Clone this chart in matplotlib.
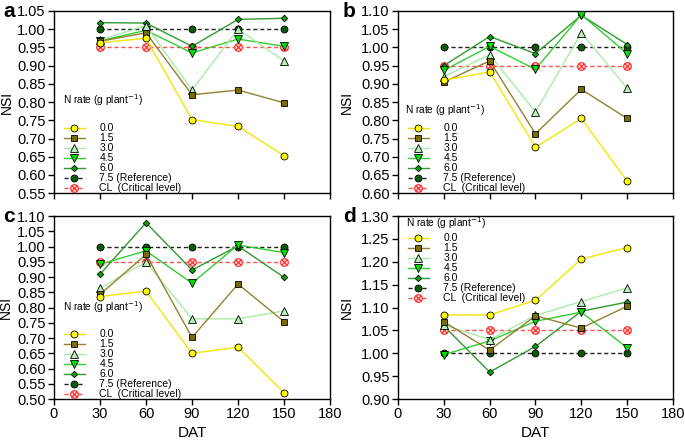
import numpy as np
import matplotlib
matplotlib.use("Agg")
import matplotlib.pyplot as plt
from matplotlib.path import Path

plt.rcParams['font.family'] = ['Liberation Sans', 'DejaVu Sans']

dat = [30, 60, 90, 120, 150]

# NSI values per panel, per N rate (g plant-1)
a_00 = [0.963, 0.975, 0.752, 0.733, 0.653]
a_15 = [0.967, 0.990, 0.820, 0.833, 0.798]
a_30 = [0.970, 1.010, 0.833, 1.000, 0.913]
a_45 = [0.968, 0.997, 0.935, 0.973, 0.953]
a_60 = [1.018, 1.017, 0.953, 1.027, 1.030]

b_00 = [0.910, 0.933, 0.726, 0.805, 0.633]
b_15 = [0.905, 0.963, 0.763, 0.885, 0.805]
b_30 = [0.920, 0.980, 0.823, 1.040, 0.888]
b_45 = [0.937, 1.003, 0.940, 1.090, 0.983]
b_60 = [0.950, 1.030, 0.983, 1.088, 1.008]

c_00 = [0.836, 0.854, 0.650, 0.670, 0.520]
c_15 = [0.843, 0.974, 0.702, 0.877, 0.754]
c_30 = [0.863, 0.950, 0.763, 0.763, 0.789]
c_45 = [0.942, 0.986, 0.880, 1.005, 0.980]
c_60 = [0.909, 1.078, 0.923, 1.002, 0.899]

d_00 = [1.084, 1.084, 1.116, 1.206, 1.231]
d_15 = [1.069, 1.007, 1.082, 1.055, 1.103]
d_30 = [1.062, 1.030, 1.083, 1.113, 1.143]
d_45 = [0.997, 1.027, 1.070, 1.090, 1.012]
d_60 = [1.060, 0.959, 1.015, 1.092, 1.112]

ref_a = [1.0] * 5
cl_a = [0.95] * 5
cl_d = [1.05] * 5

rate_labels = ['0.0', '1.5', '3.0', '4.5', '6.0']

# circle with an x inside, for the critical level markers
_circ = Path.unit_circle()
_d = 0.707
_x = Path([(-_d, -_d), (_d, _d), (-_d, _d), (_d, -_d)],
          [Path.MOVETO, Path.LINETO, Path.MOVETO, Path.LINETO])
cl_marker = Path.make_compound_path(_circ, _x)

styles = [
    dict(marker='o', color='#f2e600', mfc='#ffff00', ms=5),
    dict(marker='s', color='#8f8230', mfc='#7a6c00', ms=5),
    dict(marker='^', color='#a8eca8', mfc='#b8f0b8', ms=5.5),
    dict(marker='v', color='#33cc33', mfc='#00e000', ms=5.5),
    dict(marker='D', color='#2f9a2f', mfc='#00a800', ms=3.3),
]

# letter, series, CL level, ylim, yticks, axes rect, letter x, ylabel x, legend title pos, legend anchor/loc
panels = [
    ('a', [a_00, a_15, a_30, a_45, a_60], cl_a, (0.55, 1.05), np.arange(0.55, 1.051, 0.05),
     [0.0788, 0.561, 0.403, 0.414], -0.185, -0.145, (0.033, 0.51), ((0.036, 0.0), 'lower left')),
    ('b', [b_00, b_15, b_30, b_45, b_60], cl_a, (0.60, 1.10), np.arange(0.60, 1.101, 0.05),
     [0.581, 0.561, 0.4015, 0.414], -0.2, -0.162, (0.025, 0.455), ((0.036, 0.0), 'lower left')),
    ('c', [c_00, c_15, c_30, c_45, c_60], cl_a, (0.50, 1.10), np.arange(0.50, 1.101, 0.05),
     [0.0788, 0.093, 0.403, 0.416], -0.185, -0.15, (0.033, 0.50), ((0.036, 0.0), 'lower left')),
    ('d', [d_00, d_15, d_30, d_45, d_60], cl_d, (0.90, 1.30), np.arange(0.90, 1.301, 0.05),
     [0.581, 0.093, 0.4015, 0.416], -0.2, -0.162, (0.03, 0.96), ((0.036, 0.905), 'upper left')),
]

fig = plt.figure(figsize=(6.85, 4.4), dpi=100)

for letter, series, cl, ylim, yticks, rect, lx, ylx, tpos, (anchor, loc) in panels:
    ax = fig.add_axes(rect)
    h_cl, = ax.plot(dat, cl, linestyle='--', dashes=(3, 2), color='#ff5050', lw=1,
                    marker=cl_marker, ms=5.5, mfc='#ffe8e8', mec='#ff3030', mew=0.9, zorder=2)
    h_ref, = ax.plot(dat, ref_a, linestyle='--', dashes=(3, 2), color='#222222', lw=1,
                     marker='o', ms=5, mfc='#0b5a0b', mec='black', mew=0.6, zorder=3)
    handles = []
    for i, (vals, st) in enumerate(zip(series, styles)):
        h, = ax.plot(dat, vals, lw=1.0, mec='black', mew=0.6, zorder=10 - i, **st)
        handles.append(h)
    handles += [h_ref, h_cl]
    labels = rate_labels + ['7.5 (Reference)', 'CL  (Critical level)']
    ax.legend(handles, labels, loc=loc, bbox_to_anchor=anchor, frameon=False,
              fontsize=7.5, handlelength=2.0, handletextpad=1.4, labelspacing=0.0,
              handleheight=0.6, borderpad=0.0, borderaxespad=0.0)
    ax.text(tpos[0], tpos[1], 'N rate (g plant$^{-1}$)', transform=ax.transAxes,
            fontsize=7.3, ha='left', va='center')

    ax.set_xlim(0, 180)
    ax.set_xticks([0, 30, 60, 90, 120, 150, 180])
    ax.set_ylim(*ylim)
    ax.set_yticks(yticks)
    ax.set_yticklabels([f'{v:.2f}' for v in yticks])
    ax.tick_params(direction='out', length=4, width=1, labelsize=10.5, pad=2)
    for sp in ax.spines.values():
        sp.set_linewidth(1)
    ax.set_ylabel('NSI', fontsize=10)
    ax.yaxis.set_label_coords(ylx, 0.5)
    if letter in ('a', 'b'):
        ax.set_xticklabels([])
    else:
        ax.set_xlabel('DAT', fontsize=11, labelpad=3)
    ax.text(lx, 0.995, letter, transform=ax.transAxes, fontsize=15,
            fontweight='bold', ha='left', va='center')

fig.savefig('out.png', dpi=100)
